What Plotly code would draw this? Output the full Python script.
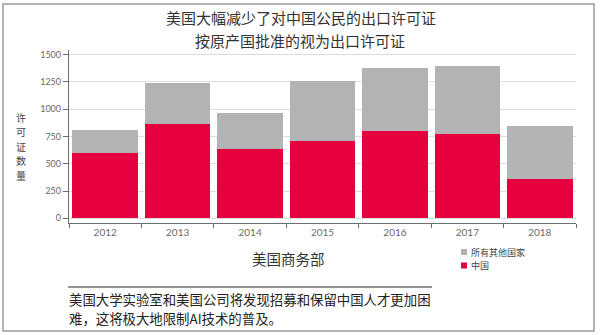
import plotly.graph_objects as go

years = ["2012", "2013", "2014", "2015", "2016", "2017", "2018"]
china = [600, 860, 637, 707, 796, 771, 357]
others = [210, 381, 324, 552, 576, 622, 485]
name_others = "所有其他国家"
name_china = "中国"
y_ticks = [0, 250, 500, 750, 1000, 1250, 1500]

title1 = "美国大幅减少了对中国公民的出口许可证"
title2 = "按原产国批准的视为出口许可证"
y_title = "许可证数量"
x_title = "美国商务部"
caption1 = "美国大学实验室和美国公司将发现招募和保留中国人才更加困"
caption2 = "难，这将极大地限制AI技术的普及。"

W, H = 600, 335
L, R, T, B = 69, 24, 50, 112
PW, PH = W - L - R, H - T - B


def xp(px):
    return (px - L) / PW


def yp(py):
    return 1 - (py - T) / PH


RED = "#e6003d"
GRAY = "#b1b3b5"
CJK = "Noto Sans CJK SC"
NUM = "Lato"

fig = go.Figure()
fig.add_bar(x=years, y=china, name=name_china, marker=dict(color=RED, line=dict(width=0)),
            showlegend=False)
fig.add_bar(x=years, y=others, name=name_others, marker=dict(color=GRAY, line=dict(width=0)),
            showlegend=False)

fig.update_layout(
    width=W, height=H,
    margin=dict(l=L, r=R, t=T, b=B),
    barmode="stack", bargap=0.095,
    plot_bgcolor="white", paper_bgcolor="white",
    xaxis=dict(type="category", showline=True, linecolor="#6e6e6e", linewidth=1.3,
               ticks="outside", tickson="boundaries", ticklen=4, tickcolor="#6e6e6e",
               tickfont=dict(family=NUM, size=10, color="#6a6a6a"), showgrid=False),
    yaxis=dict(range=[-43, 1541], tickvals=y_ticks, showline=True, linecolor="#6e6e6e",
               linewidth=1.3, ticks="outside", ticklen=5, tickcolor="#6e6e6e",
               tickfont=dict(family=NUM, size=9, color="#6a6a6a"),
               showgrid=True, gridcolor="#dcdcdc", gridwidth=1, zeroline=False),
)

ann = []
ann.append(dict(text=title1, x=xp(301), y=yp(17), xref="paper", yref="paper", showarrow=False,
                font=dict(family=CJK, size=15, color="#333333"), xanchor="center", yanchor="middle"))
ann.append(dict(text=title2, x=xp(300), y=yp(41), xref="paper", yref="paper", showarrow=False,
                font=dict(family=CJK, size=15, color="#333333"), xanchor="center", yanchor="middle"))
for i, ch in enumerate(y_title):
    ann.append(dict(text=ch, x=xp(21), y=yp(117 + i * 14.6), xref="paper", yref="paper",
                    showarrow=False, borderpad=0,
                    font=dict(family=CJK, size=10, color="#444444"),
                    xanchor="center", yanchor="middle"))
ann.append(dict(text=x_title, x=xp(288), y=yp(258), xref="paper", yref="paper", showarrow=False,
                font=dict(family=CJK, size=14.5, color="#333333"), xanchor="center", yanchor="middle"))
ann.append(dict(text=name_others, x=xp(470), y=yp(252), xref="paper", yref="paper", showarrow=False,
                borderpad=0, font=dict(family=CJK, size=9, color="#444444"),
                xanchor="left", yanchor="middle"))
ann.append(dict(text=name_china, x=xp(470), y=yp(265.5), xref="paper", yref="paper", showarrow=False,
                borderpad=0, font=dict(family=CJK, size=9, color="#444444"),
                xanchor="left", yanchor="middle"))
ann.append(dict(text=caption1, x=xp(67), y=yp(299), xref="paper", yref="paper", showarrow=False,
                font=dict(family=CJK, size=13.4, color="#222222"), xanchor="left", yanchor="middle"))
ann.append(dict(text=caption2, x=xp(67), y=yp(318), xref="paper", yref="paper", showarrow=False,
                font=dict(family=CJK, size=13.4, color="#222222"), xanchor="left", yanchor="middle"))
fig.update_layout(annotations=ann)

shapes = [
    dict(type="rect", xref="paper", yref="paper", x0=xp(3), x1=xp(594), y0=yp(4), y1=yp(331),
         line=dict(color="#9a9a9a", width=1.5), fillcolor="rgba(0,0,0,0)", layer="below"),
    dict(type="rect", xref="paper", yref="paper", x0=xp(461), x1=xp(467), y0=yp(249), y1=yp(255),
         line=dict(width=0), fillcolor=GRAY),
    dict(type="rect", xref="paper", yref="paper", x0=xp(461), x1=xp(467), y0=yp(262.5), y1=yp(268.5),
         line=dict(width=0), fillcolor=RED),
    dict(type="line", xref="paper", yref="paper", x0=xp(68), x1=xp(432), y0=yp(287), y1=yp(287),
         line=dict(color="#6e6e6e", width=1.5)),
]
fig.update_layout(shapes=shapes)

fig.write_html("out.html")
